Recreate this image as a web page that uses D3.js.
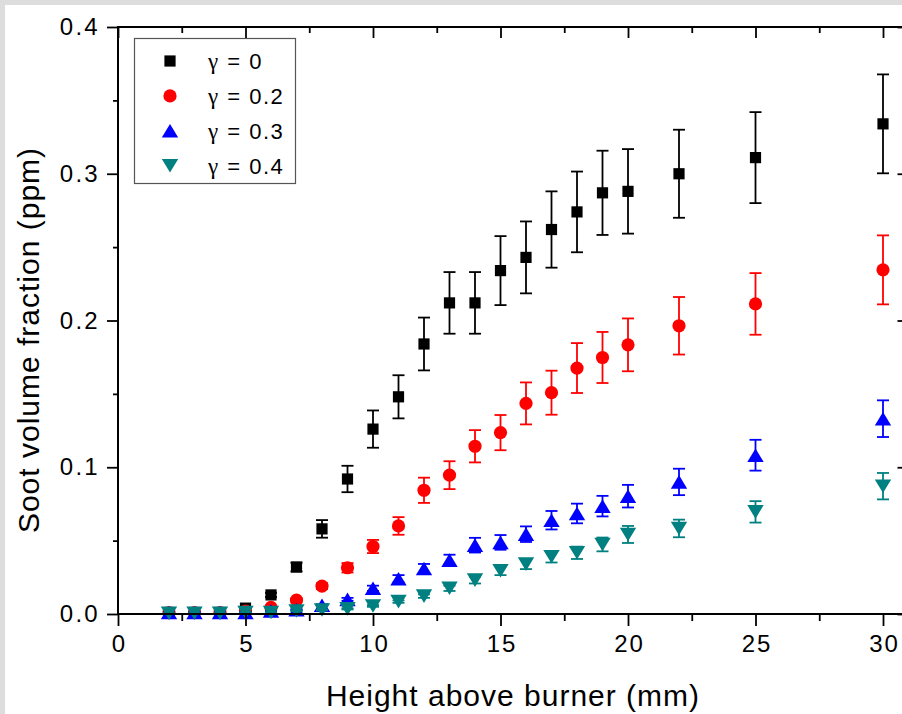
<!DOCTYPE html>
<html lang="en">
<head>
<meta charset="UTF-8" />
<title>Soot volume fraction vs height above burner</title>
<script src="https://d3js.org/d3.v7.min.js"></script>
<style>
body {
    margin: 0;
    padding: 0;
    background: #dddddd;
}
svg {
    display: block;
    font-family: "Liberation Sans", Arial, sans-serif;
}
</style>
</head>
<body>
<svg width="902" height="714"></svg>

<script>
// data
const heights = [2, 3, 4, 5, 6, 7, 8, 9, 10, 11, 12, 13, 14, 15, 16, 17, 18, 19, 20, 22, 25, 30];

const gamma0 = [0.001, 0.001, 0.001, 0.004, 0.013, 0.032, 0.058, 0.092, 0.126, 0.148, 0.184, 0.212, 0.212, 0.234, 0.243, 0.262, 0.274, 0.287, 0.288, 0.300, 0.311, 0.334];
const gamma0Err = [0.0002, 0.0002, 0.0002, 0.0005, 0.0015, 0.003, 0.006, 0.009, 0.0127, 0.0147, 0.018, 0.021, 0.021, 0.0235, 0.0245, 0.026, 0.0275, 0.0287, 0.0288, 0.030, 0.031, 0.0337];

const gamma02 = [0.001, 0.001, 0.001, 0.002, 0.0045, 0.0095, 0.019, 0.0315, 0.046, 0.060, 0.0843, 0.0946, 0.1143, 0.1236, 0.1435, 0.1508, 0.1676, 0.1748, 0.1834, 0.1964, 0.2113, 0.2345];
const gamma02Err = [0.0002, 0.0002, 0.0002, 0.0003, 0.0006, 0.001, 0.002, 0.0032, 0.0045, 0.006, 0.0086, 0.0095, 0.011, 0.012, 0.0143, 0.015, 0.017, 0.0174, 0.018, 0.0196, 0.021, 0.0235];

const gamma03 = [0.001, 0.001, 0.001, 0.001, 0.002, 0.003, 0.006, 0.0100, 0.0175, 0.0240, 0.031, 0.0367, 0.0469, 0.0488, 0.0544, 0.0639, 0.0685, 0.0735, 0.0803, 0.090, 0.1082, 0.1331];
const gamma03Err = [0.0001, 0.0001, 0.0001, 0.0001, 0.0002, 0.0003, 0.0006, 0.001, 0.0018, 0.0025, 0.0031, 0.0037, 0.005, 0.005, 0.0053, 0.0063, 0.0067, 0.007, 0.0077, 0.009, 0.0105, 0.0125];

const gamma04 = [0.0005, 0.0005, 0.0005, 0.001, 0.001, 0.002, 0.0027, 0.0035, 0.0055, 0.0084, 0.0122, 0.0175, 0.0231, 0.0295, 0.034, 0.039, 0.0417, 0.0474, 0.0542, 0.0583, 0.0696, 0.0871];
const gamma04Err = [0.0001, 0.0001, 0.0001, 0.0001, 0.0001, 0.0002, 0.0003, 0.0004, 0.0006, 0.0008, 0.0012, 0.0018, 0.0023, 0.003, 0.0034, 0.0039, 0.0042, 0.0047, 0.0058, 0.006, 0.0073, 0.009];

const seriesLabels = ["0", "0.2", "0.3", "0.4"];
const seriesColors = ["#000000", "#ff0000", "#0000ff", "#008080"];
const seriesShapes = ["square", "circle", "up", "down"];

const xTicks = [0, 5, 10, 15, 20, 25, 30];
const yTicks = [0.0, 0.1, 0.2, 0.3, 0.4];

const series = [
    { values: gamma0, err: gamma0Err },
    { values: gamma02, err: gamma02Err },
    { values: gamma03, err: gamma03Err },
    { values: gamma04, err: gamma04Err },
].map((s, i) => ({ ...s, label: seriesLabels[i], color: seriesColors[i], shape: seriesShapes[i] }));

const svg = d3.select("svg");

// grey page edge with the white card
svg.append("rect").attr("width", 902).attr("height", 714).attr("fill", "#dddddd");
svg.append("rect").attr("x", 5).attr("y", 5).attr("width", 897).attr("height", 709).attr("fill", "#ffffff");

const plotLeft = 118, plotRight = 908.5, plotTop = 27, plotBottom = 614;

const x = d3.scaleLinear().domain([0, 31]).range([plotLeft, plotRight]);
const y = d3.scaleLinear().domain([0, 0.4]).range([plotBottom, plotTop]);

// marker shapes
function markerPath(shape) {
    if (shape === "square") return "M-5.6,-5.6H5.6V5.6H-5.6Z";
    if (shape === "circle") return d3.symbol(d3.symbolCircle, Math.PI * 6.6 * 6.6)();
    if (shape === "up") return "M0,-6.8L8.2,6.8L-8.2,6.8Z";
    return "M0,6.8L8.2,-6.8L-8.2,-6.8Z";
}

const plot = svg.append("g");

series.forEach((s) => {
    const g = plot.append("g");
    const pts = heights.map((h, i) => ({ h: h, v: s.values[i], e: s.err[i] }));

    // error bars
    const bars = g.selectAll(".bar")
        .data(pts)
        .enter()
        .append("g")
        .attr("stroke", s.color)
        .attr("stroke-width", 1.8);
    bars.append("line")
        .attr("x1", (d) => x(d.h)).attr("x2", (d) => x(d.h))
        .attr("y1", (d) => y(d.v + d.e)).attr("y2", (d) => y(d.v - d.e));
    bars.append("line")
        .attr("x1", (d) => x(d.h) - 6).attr("x2", (d) => x(d.h) + 6)
        .attr("y1", (d) => y(d.v + d.e)).attr("y2", (d) => y(d.v + d.e));
    bars.append("line")
        .attr("x1", (d) => x(d.h) - 6).attr("x2", (d) => x(d.h) + 6)
        .attr("y1", (d) => y(d.v - d.e)).attr("y2", (d) => y(d.v - d.e));

    g.selectAll(".pt")
        .data(pts)
        .enter()
        .append("path")
        .attr("d", markerPath(s.shape))
        .attr("transform", (d) => `translate(${x(d.h)},${y(d.v)})`)
        .attr("fill", s.color);
});

// axes: major and minor ticks on all four sides
const minorX = d3.range(2.5, 31, 5);
const minorY = d3.range(0.05, 0.4, 0.1);

function styleAxis(sel) {
    sel.select(".domain").remove();
    sel.selectAll(".tick line").attr("stroke", "#000").attr("stroke-width", 1.8);
}

svg.append("g")
    .attr("transform", `translate(0,${plotBottom})`)
    .call(d3.axisBottom(x).tickValues(xTicks).tickSize(12).tickPadding(9).tickFormat(d3.format("d")))
    .call(styleAxis)
    .call((g) => g.selectAll("text")
        .attr("font-size", 24).attr("letter-spacing", 2).attr("dx", 1).attr("fill", "#000"));
svg.append("g")
    .attr("transform", `translate(0,${plotBottom})`)
    .call(d3.axisBottom(x).tickValues(minorX).tickSize(7).tickFormat(""))
    .call(styleAxis);

svg.append("g")
    .attr("transform", `translate(0,${plotTop})`)
    .call(d3.axisBottom(x).tickValues(xTicks).tickSize(11).tickFormat(""))
    .call(styleAxis);
svg.append("g")
    .attr("transform", `translate(0,${plotTop})`)
    .call(d3.axisBottom(x).tickValues(minorX).tickSize(6).tickFormat(""))
    .call(styleAxis);

svg.append("g")
    .attr("transform", `translate(${plotLeft},0)`)
    .call(d3.axisLeft(y).tickValues(yTicks).tickSize(11).tickPadding(9).tickFormat(d3.format(".1f")))
    .call(styleAxis)
    .call((g) => g.selectAll("text")
        .attr("font-size", 24).attr("letter-spacing", 2.3).attr("dx", 2).attr("fill", "#000"));
svg.append("g")
    .attr("transform", `translate(${plotLeft},0)`)
    .call(d3.axisLeft(y).tickValues(minorY).tickSize(5).tickFormat(""))
    .call(styleAxis);

svg.append("g")
    .attr("transform", `translate(${plotRight},0)`)
    .call(d3.axisLeft(y).tickValues(yTicks).tickSize(11).tickFormat(""))
    .call(styleAxis);
svg.append("g")
    .attr("transform", `translate(${plotRight},0)`)
    .call(d3.axisLeft(y).tickValues(minorY).tickSize(6).tickFormat(""))
    .call(styleAxis);

// frame
svg.append("rect")
    .attr("x", plotLeft).attr("y", plotTop)
    .attr("width", plotRight - plotLeft).attr("height", plotBottom - plotTop)
    .attr("fill", "none")
    .attr("stroke", "#000")
    .attr("stroke-width", 2);

// axis titles
svg.append("text")
    .attr("x", 513).attr("y", 706)
    .attr("text-anchor", "middle")
    .attr("font-size", 30)
    .attr("letter-spacing", 1)
    .text("Height above burner (mm)");

svg.append("text")
    .attr("transform", "translate(39,340) rotate(-90)")
    .attr("text-anchor", "middle")
    .attr("font-size", 30)
    .attr("letter-spacing", 1)
    .text("Soot volume fraction (ppm)");

// legend
const legend = svg.append("g");
legend.append("rect")
    .attr("x", 134.5).attr("y", 38.5)
    .attr("width", 161).attr("height", 145)
    .attr("fill", "#fff")
    .attr("stroke", "#555")
    .attr("stroke-width", 1.2);

const rows = legend.selectAll(".row")
    .data(series)
    .enter()
    .append("g")
    .attr("transform", (d, i) => `translate(170,${61 + i * 34.9})`);
rows.append("path")
    .attr("d", (d) => markerPath(d.shape))
    .attr("fill", (d) => d.color);
const label = rows.append("text")
    .attr("x", 38).attr("y", 8)
    .attr("font-size", 22)
    .attr("letter-spacing", 1.5);
label.append("tspan")
    .attr("font-family", "'Liberation Serif', 'DejaVu Serif', serif")
    .attr("font-size", 23)
    .text("γ");
label.append("tspan")
    .text((d) => " = " + d.label);
</script>
</body>
</html>
